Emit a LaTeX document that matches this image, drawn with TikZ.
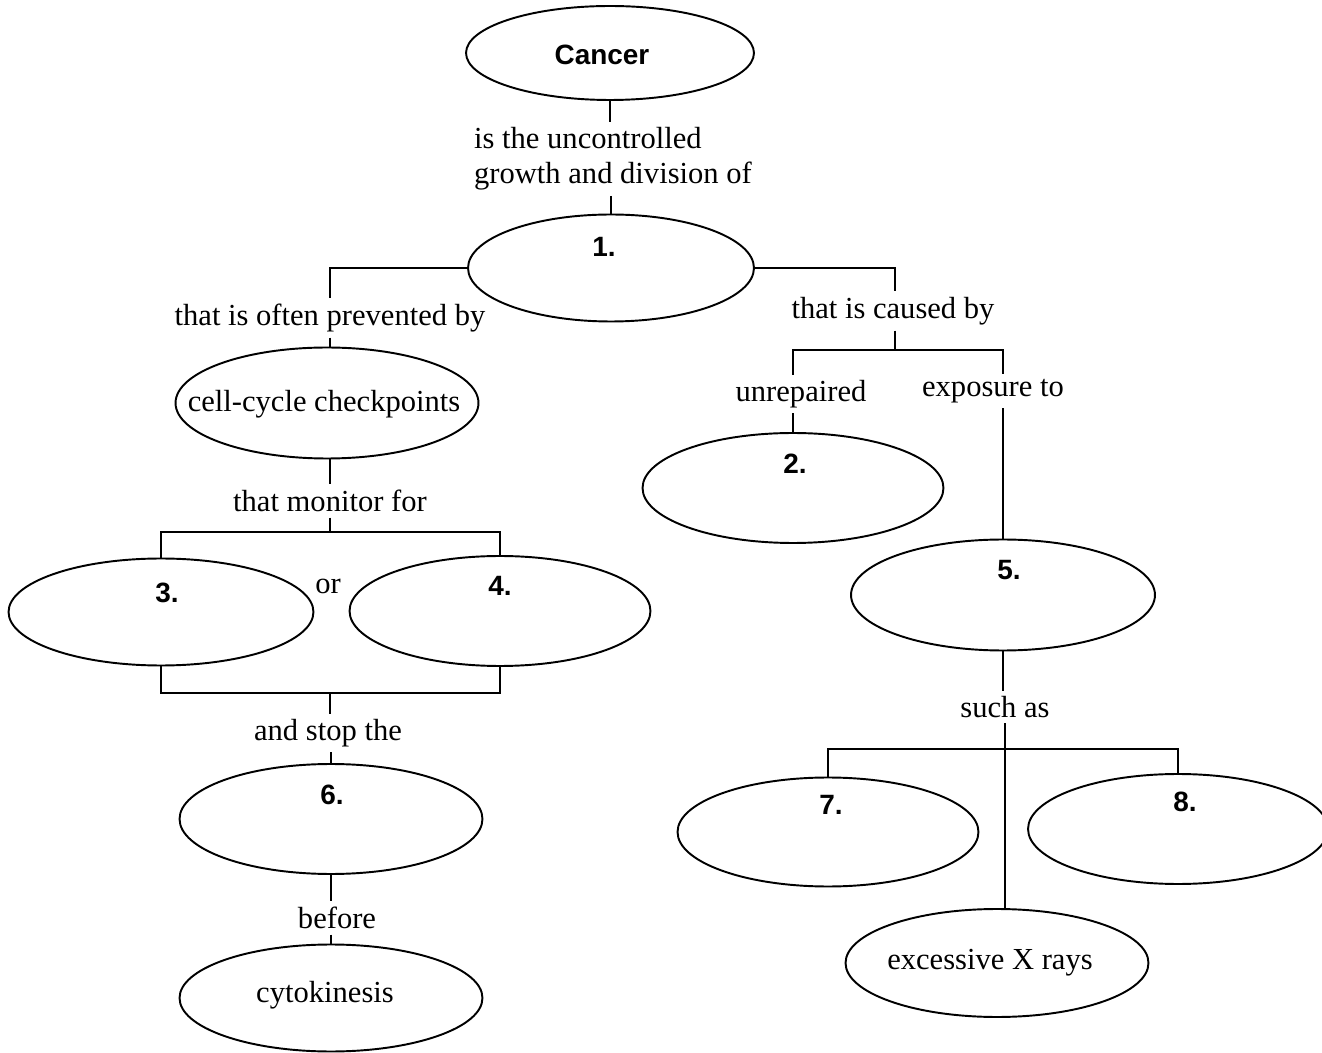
\documentclass[tikz,border=0pt]{standalone}
\usepackage{fontspec}
\setmainfont{Liberation Serif}
\newfontfamily\numfont{Liberation Sans}
\usetikzlibrary{shapes.geometric}
\begin{document}
\begin{tikzpicture}[x=0.02cm, y=-0.02cm,
  oval/.style={ellipse, draw, line width=1.1pt, inner sep=0pt, minimum width=6.06cm, minimum height=2.18cm},
  lbl/.style={font=\fontsize{17.4}{19.8}\selectfont, inner sep=3pt, align=center},
  numlab/.style={font=\numfont\bfseries\fontsize{15.9}{18}\selectfont, inner sep=0pt},
  conn/.style={line width=1.1pt}]
\useasboundingbox (0,0) rectangle (1322,1053);

% ellipses
\node[oval, minimum width=5.76cm, minimum height=1.88cm] (cancer) at (610,53) {};
\node[numlab] (cancertxt) at (602,55) {Cancer};
\node[oval, minimum width=5.72cm, minimum height=2.14cm] (e1) at (611,268) {};
\node[oval, minimum width=6.06cm, minimum height=2.22cm] (cc) at (327,403) {};
\node[lbl, inner sep=0pt] (cctxt) at (324,404) {cell-cycle checkpoints};
\node[oval, minimum width=6.10cm, minimum height=2.14cm] (e3) at (161,612) {};
\node[oval, minimum width=6.02cm, minimum height=2.20cm] (e4) at (500,611) {};
\node[oval, minimum width=6.06cm, minimum height=2.20cm] (e6) at (331,819) {};
\node[oval, minimum width=6.06cm, minimum height=2.14cm] (cyto) at (331,998) {};
\node[lbl, inner sep=0pt] (cytotxt) at (325,995) {cytokinesis};
\node[oval, minimum width=6.02cm, minimum height=2.20cm] (e2) at (793,488) {};
\node[oval, minimum width=6.08cm, minimum height=2.22cm] (e5) at (1003,595) {};
\node[oval, minimum width=6.02cm, minimum height=2.18cm] (e7) at (828,832) {};
\node[oval, minimum width=6.00cm, minimum height=2.20cm] (e8) at (1178,829) {};
\node[oval, minimum width=6.06cm, minimum height=2.16cm] (xr) at (997,963) {};
\node[lbl, inner sep=0pt] (xrtxt) at (990,963) {excessive X rays};

% number labels
\node[numlab] (n1) at (604,247) {1.};
\node[numlab] (n2) at (795,464) {2.};
\node[numlab] (n3) at (167,593) {3.};
\node[numlab] (n4) at (500,586) {4.};
\node[numlab] (n5) at (1009,570) {5.};
\node[numlab] (n6) at (332,795) {6.};
\node[numlab] (n7) at (831,805) {7.};
\node[numlab] (n8) at (1185,802) {8.};

% linking phrases
\node[lbl, align=left] (t1) at (613,159) {is the uncontrolled\\growth and division of};
\node[lbl] (t2) at (330,318) {that is often prevented by};
\node[lbl] (t3) at (330,501) {that monitor for};
\node[lbl] (or) at (328,586) {or};
\node[lbl] (t4) at (328,733) {and stop the};
\node[lbl] (t5) at (337,918) {before};
\node[lbl] (t6) at (893,311) {that is caused by};
\node[lbl] (t7) at (801,394) {unrepaired};
\node[lbl] (t8) at (993,391) {exposure to};
\node[lbl] (t9) at (1005,707) {such as};

% junction points
\coordinate (b1) at (330,532);
\coordinate (b2) at (330,693);
\coordinate (b3) at (895,350);
\coordinate (b4) at (1005,749);

% connectors
\draw[conn] (cancer.south) -- (cancer.south |- t1.north);
\draw[conn] (e1.north |- t1.south) -- (e1.north);
\draw[conn] (e1.west) -| (t2.north);
\draw[conn] (t2.south) -- (t2.south |- cc.north);
\draw[conn] (cc.south -| t3.north) -- (t3.north);
\draw[conn] (t3.south) -- (b1);
\draw[conn] (e3.north) |- (b1) -| (e4.north);
\draw[conn] (e3.south) |- (b2) -| (e4.south);
\draw[conn] (b2) -- (b2 |- t4.north);
\draw[conn] (e6.north |- t4.south) -- (e6.north);
\draw[conn] (e6.south) -- (e6.south |- t5.north);
\draw[conn] (cyto.north |- t5.south) -- (cyto.north);
\draw[conn] (e1.east) -| (t6.north -| b3);
\draw[conn] (b3 |- t6.south) -- (b3);
\draw[conn] (e2.north |- t7.north) |- (b3) -| (e5.north |- t8.north);
\draw[conn] (e2.north |- t7.south) -- (e2.north);
\draw[conn] (e5.north |- t8.south) -- (e5.north);
\draw[conn] (e5.south) -- (e5.south |- t9.north);
\draw[conn] (e7.north) |- (b4) -| (e8.north);
\draw[conn] (t9.south) -- (t9.south |- xr.north);
\end{tikzpicture}
\end{document}
